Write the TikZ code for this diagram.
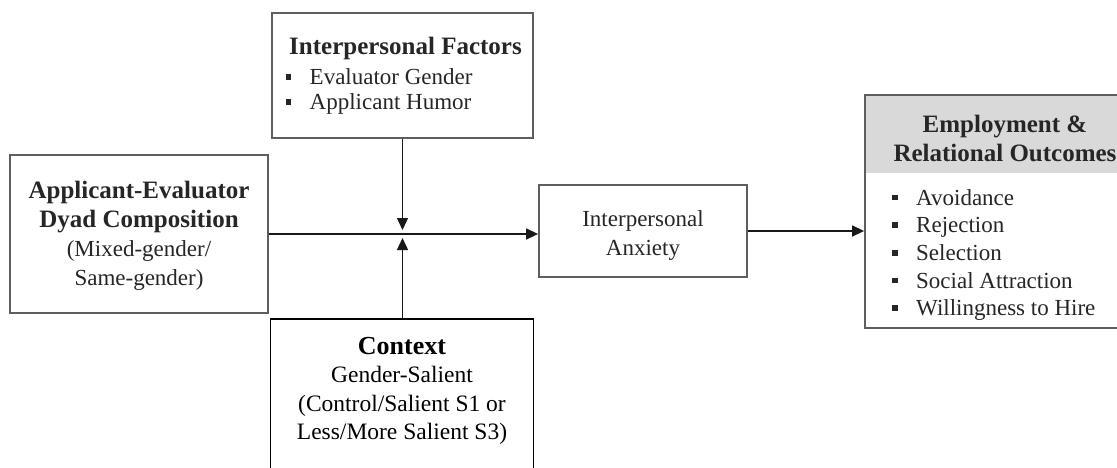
\documentclass[tikz,border=0pt]{standalone}
\usepackage{fontspec}
\setmainfont{Liberation Serif}
\usetikzlibrary{arrows.meta}
\definecolor{boxline}{HTML}{5E5E5E}
\definecolor{txt}{HTML}{262626}
\definecolor{hdrgray}{HTML}{D9D9D9}
\newcommand{\bul}{\makebox[24pt][l]{\rule[5pt]{5.5pt}{5.5pt}}}
\tikzset{
  box/.style={draw=boxline, line width=1.8pt, inner sep=0pt},
  ctxbox/.style={draw=black, line width=1.6pt, inner sep=0pt},
  lbl/.style={inner sep=0pt, text=txt, align=center, font=\fontsize{23}{29}\selectfont},
  ttl/.style={inner sep=0pt, text=txt, align=center, font=\fontsize{25}{29}\selectfont\bfseries},
  item/.style={inner sep=0pt, text=txt, anchor=west, align=left, font=\fontsize{23}{27.7}\selectfont},
  conn/.style={draw=black!90, line width=1.4pt, -{Triangle[length=12pt,width=11pt]}}
}
\begin{document}
\begin{tikzpicture}[x=1pt,y=-1pt]
\useasboundingbox (0,0) rectangle (1117,467);
\fill[white] (0,0) rectangle (1117,467);
\clip (0,0) rectangle (1117,467);

% boxes
\node[box, minimum width=261pt, minimum height=125pt] (ifb) at (402.5,75.5) {};
\node[box, minimum width=258pt, minimum height=158pt] (app) at (139,234) {};
\node[box, minimum width=208pt, minimum height=92pt] (ia) at (643,231) {};
\node[fill=hdrgray, inner sep=0pt, minimum width=280pt, minimum height=78pt] (hdr) at (1005,134) {};
\node[box, minimum width=280pt, minimum height=233pt] (out) at (1005,211.5) {};
\node[ctxbox, minimum width=263pt, minimum height=171pt] (ctx) at (402,404.5) {};

% texts
\node[ttl, anchor=west] (ift) at (289,48) {Interpersonal Factors};
\node[item] (if1) at (285.5,77) {\bul Evaluator Gender};
\node[item] (if2) at (285.5,104) {\bul Applicant Humor};

\node[lbl] (appt) at (139,236) {\textbf{\fontsize{25}{29}\selectfont Applicant-Evaluator}\\\textbf{\fontsize{25}{29}\selectfont Dyad Composition}\\(Mixed-gender/\\Same-gender)};

\node[lbl] (iat) at (643,235) {Interpersonal\\Anxiety};

\node[ttl] (outt) at (1005,138) {Employment \&\\Relational Outcomes};
\node[item] (outl) at (892,255) {\bul Avoidance\\\bul Rejection\\\bul Selection\\\bul Social Attraction\\\bul Willingness to Hire};

\node[inner sep=0pt, align=center, text=black, font=\fontsize{23.5}{28.5}\selectfont] (ctxt) at (402,391)
  {{\fontsize{26}{28.5}\selectfont\bfseries Context}\\Gender-Salient\\(Control/Salient S1 or\\Less/More Salient S3)};

% connectors
\coordinate (jt) at (402.5,230);
\coordinate (jb) at (402.5,238);
\draw[conn] (app.east) -- (app.east -| ia.west);
\draw[conn] (ifb.south) -- (jt);
\draw[conn] (ctx.north -| jb) -- (jb);
\draw[conn] (ia.east) -- (ia.east -| out.west);
\end{tikzpicture}
\end{document}
